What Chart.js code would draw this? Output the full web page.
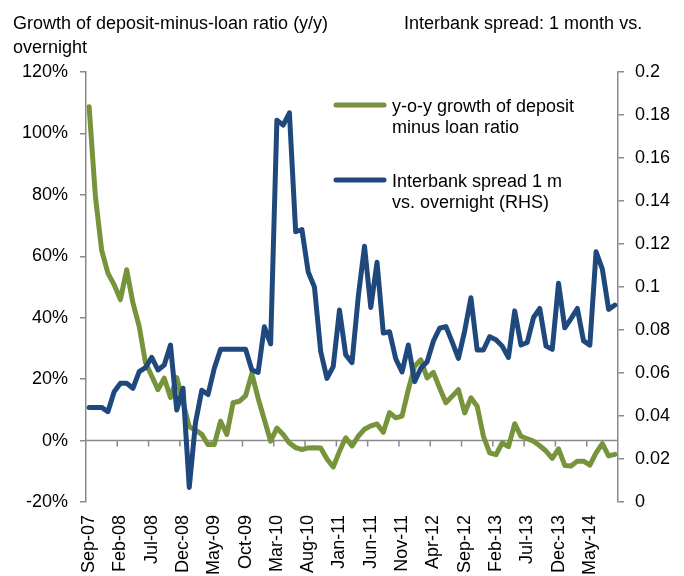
<!DOCTYPE html>
<html>
<head>
<meta charset="utf-8">
<script src="https://cdn.jsdelivr.net/npm/chart.js@4.4.0/dist/chart.umd.min.js"></script>
<style>
    html, body { margin: 0; padding: 0; background: #fff; }
    #wrap { position: relative; width: 684px; height: 576px; font-family: "Liberation Sans", Arial, sans-serif; }
    .ttl { position: absolute; font-size: 18px; line-height: 24px; color: #000; white-space: nowrap; }
</style>
</head>
<body>
<div id="wrap">
    <canvas id="chart"></canvas>
    <div class="ttl" style="left:13px; top:11px;">Growth of deposit-minus-loan ratio (y/y)<br>overnight</div>
    <div class="ttl" style="left:404px; top:11px;">Interbank spread: 1 month vs.</div>
</div>
<script>
    "use strict";

    const months = [
        "Sep-07", "Oct-07", "Nov-07", "Dec-07",
        "Jan-08", "Feb-08", "Mar-08", "Apr-08", "May-08", "Jun-08", "Jul-08", "Aug-08", "Sep-08", "Oct-08", "Nov-08", "Dec-08",
        "Jan-09", "Feb-09", "Mar-09", "Apr-09", "May-09", "Jun-09", "Jul-09", "Aug-09", "Sep-09", "Oct-09", "Nov-09", "Dec-09",
        "Jan-10", "Feb-10", "Mar-10", "Apr-10", "May-10", "Jun-10", "Jul-10", "Aug-10", "Sep-10", "Oct-10", "Nov-10", "Dec-10",
        "Jan-11", "Feb-11", "Mar-11", "Apr-11", "May-11", "Jun-11", "Jul-11", "Aug-11", "Sep-11", "Oct-11", "Nov-11", "Dec-11",
        "Jan-12", "Feb-12", "Mar-12", "Apr-12", "May-12", "Jun-12", "Jul-12", "Aug-12", "Sep-12", "Oct-12", "Nov-12", "Dec-12",
        "Jan-13", "Feb-13", "Mar-13", "Apr-13", "May-13", "Jun-13", "Jul-13", "Aug-13", "Sep-13", "Oct-13", "Nov-13", "Dec-13",
        "Jan-14", "Feb-14", "Mar-14", "Apr-14", "May-14", "Jun-14", "Jul-14", "Aug-14", "Sep-14"
    ];

    // y-o-y growth of deposit minus loan ratio, in %
    const depositGrowth = [
        108.7, 79.5, 62, 54.5,
        50.7, 45.9, 55.6, 44.8, 37.2, 25.4, 21, 16.6, 20.3, 14, 20.5, 12.5,
        4.5, 3.4, 2, -1.3, -1.3, 6.3, 2, 12.3, 12.8, 14.6, 21.8, 13.8,
        6.8, -0.2, 4.1, 2, -0.8, -2.3, -2.9, -2.4, -2.3, -2.4, -6, -8.6,
        -3.5, 0.9, -1.8, 1.4, 3.7, 4.8, 5.4, 2.7, 9.1, 7.4, 8, 16.6,
        24.2, 26.3, 20.4, 22.2, 17.1, 12.3, 14.4, 16.6, 9, 13.9, 11.2, 1.4,
        -4, -4.6, -0.8, -2, 5.5, 1.4, 0.6, -0.2, -1.7, -3.4, -5.8, -2.7,
        -8.1, -8.3, -6.7, -6.7, -8, -4, -1, -5, -4.5
    ];

    // interbank spread 1 month vs overnight (RHS)
    const interbankSpread = [
        0.044, 0.044, 0.044, 0.042,
        0.0513, 0.0552, 0.0552, 0.0529, 0.0606, 0.0625, 0.0673, 0.0614, 0.0637, 0.073, 0.0428, 0.0529,
        0.0068, 0.037, 0.052, 0.050, 0.0622, 0.071, 0.071, 0.071, 0.071, 0.071, 0.0614, 0.0603,
        0.0815, 0.0735, 0.1776, 0.1753, 0.181, 0.1257, 0.1267, 0.107, 0.100, 0.070, 0.0575, 0.063,
        0.0893, 0.0684, 0.0648, 0.0955, 0.119, 0.0905, 0.1115, 0.0786, 0.0792, 0.0665, 0.0605, 0.073,
        0.056, 0.0622, 0.0652, 0.0748, 0.0808, 0.0816, 0.0745, 0.0668, 0.0795, 0.095, 0.0707, 0.0707,
        0.0769, 0.0755, 0.0725, 0.0672, 0.0889, 0.073, 0.0742, 0.0858, 0.090, 0.0725, 0.071, 0.1017,
        0.081, 0.0853, 0.090, 0.0749, 0.073, 0.1164, 0.1083, 0.0896, 0.0916
    ];

    const greenLabel = ["y-o-y growth of deposit", "minus loan ratio"];
    const blueLabel = ["Interbank spread 1 m", "vs. overnight (RHS)"];

    const green = "#77933C";
    const blue = "#1F497D";
    const axisColor = "#8a8a8a";
    const labelEvery = 5;

    Chart.defaults.font.family = '"Liberation Sans", Arial, sans-serif';
    Chart.defaults.font.size = 18;
    Chart.defaults.color = "#000";

    // horizontal axis line at 0% with its tick marks
    const zeroAxis = {
        id: 'zeroAxis',
        beforeDatasetsDraw: function (chart) {
            let ctx = chart.ctx;
            let area = chart.chartArea;
            let x = chart.scales.x;
            let y0 = chart.scales.y.getPixelForValue(0);
            let step = x.width / months.length;

            ctx.save();
            ctx.strokeStyle = axisColor;
            ctx.lineWidth = 1.5;
            ctx.beginPath();
            ctx.moveTo(area.left, y0);
            ctx.lineTo(area.right, y0);
            for (let i = labelEvery; i < months.length; i += labelEvery) {
                let px = x.getPixelForValue(i) - step / 2;
                ctx.moveTo(px, y0);
                ctx.lineTo(px, y0 + 6);
            }
            ctx.stroke();
            ctx.restore();
        }
    };

    // legend inside the plot, two-line labels
    const sideLegend = {
        id: 'sideLegend',
        afterDraw: function (chart) {
            let ctx = chart.ctx;
            let area = chart.chartArea;
            let left = area.left + 250;
            let rows = [
                {top: area.top + 33, color: green, lines: greenLabel},
                {top: area.top + 108, color: blue, lines: blueLabel}
            ];

            ctx.save();
            ctx.font = '18px "Liberation Sans", Arial, sans-serif';
            ctx.fillStyle = "#000";
            ctx.textBaseline = 'alphabetic';
            rows.forEach(function (row) {
                ctx.strokeStyle = row.color;
                ctx.lineWidth = 5;
                ctx.lineCap = 'round';
                ctx.beginPath();
                ctx.moveTo(left, row.top);
                ctx.lineTo(left + 48, row.top);
                ctx.stroke();
                row.lines.forEach(function (line, i) {
                    ctx.fillText(line, left + 56, row.top + 6.5 + i * 21);
                });
            });
            ctx.restore();
        }
    };

    new Chart(document.getElementById("chart"), {
        type: 'line',
        data: {
            labels: months,
            datasets: [
                {
                    label: greenLabel.join(" "),
                    data: depositGrowth,
                    yAxisID: 'y',
                    borderColor: green,
                    borderWidth: 5,
                    order: 1
                },
                {
                    label: blueLabel.join(" "),
                    data: interbankSpread,
                    yAxisID: 'y1',
                    borderColor: blue,
                    borderWidth: 5,
                    order: 0
                }
            ]
        },
        options: {
            responsive: true,
            maintainAspectRatio: false,
            animation: false,
            elements: {
                point: {radius: 0, hoverRadius: 0},
                line: {tension: 0, borderJoinStyle: 'round', borderCapStyle: 'round', fill: false}
            },
            layout: {
                padding: {top: 72, left: 0, right: 0, bottom: 0}
            },
            plugins: {
                legend: {display: false},
                tooltip: {enabled: false}
            },
            scales: {
                x: {
                    offset: true,
                    grid: {display: false, drawTicks: false},
                    border: {display: false},
                    ticks: {
                        autoSkip: false,
                        minRotation: 90,
                        maxRotation: 90,
                        padding: 13,
                        callback: function (value, index) {
                            return index % labelEvery === 0 ? months[index] : '';
                        }
                    },
                    afterFit: function (scale) {
                        scale.height = 74;
                    }
                },
                y: {
                    position: 'left',
                    min: -20,
                    max: 120,
                    grid: {drawOnChartArea: false, drawTicks: true, tickLength: 6, color: axisColor, lineWidth: 1.5},
                    border: {display: true, color: axisColor, width: 1.5},
                    ticks: {
                        stepSize: 20,
                        padding: 12,
                        callback: function (value) {
                            return value + '%';
                        }
                    },
                    afterFit: function (scale) {
                        scale.width = 86;
                    }
                },
                y1: {
                    position: 'right',
                    min: 0,
                    max: 0.2,
                    grid: {drawOnChartArea: false, drawTicks: true, tickLength: 6, color: axisColor, lineWidth: 1.5},
                    border: {display: true, color: axisColor, width: 1.5},
                    ticks: {
                        stepSize: 0.02,
                        padding: 11,
                        callback: function (value) {
                            return String(+value.toFixed(2));
                        }
                    },
                    afterFit: function (scale) {
                        scale.width = 66;
                    }
                }
            }
        },
        plugins: [zeroAxis, sideLegend]
    });
</script>
</body>
</html>
